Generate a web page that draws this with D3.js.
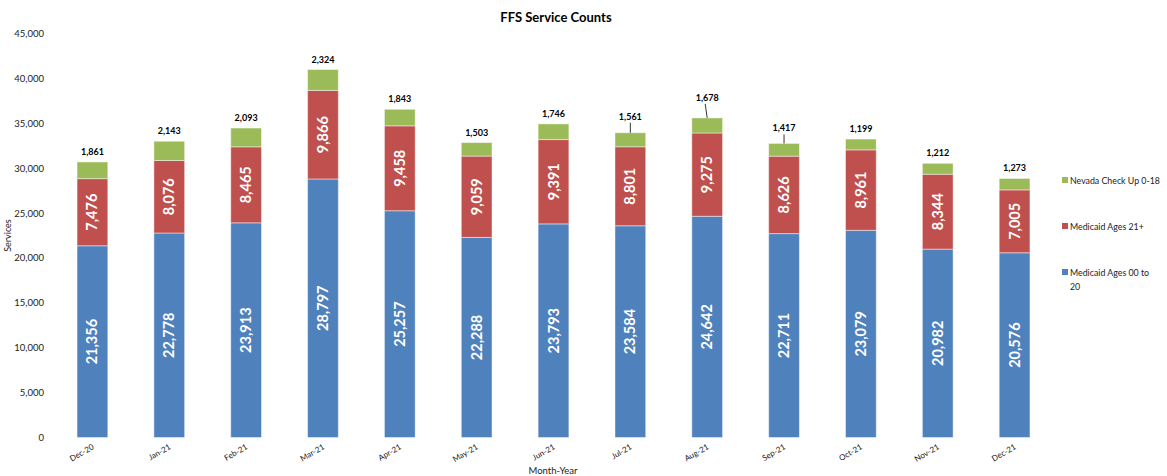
<!DOCTYPE html>
<html>
<head>
<meta charset="utf-8">
<script src="https://cdn.jsdelivr.net/npm/d3@7"></script>
<style>
  html, body { margin: 0; padding: 0; background: #fff; }
  svg { display: block; font-family: Lato, "Open Sans", "Liberation Sans", sans-serif; }
</style>
</head>
<body>
<svg id="chart" width="1167" height="476"></svg>
<script>
const months = ["Dec-20","Jan-21","Feb-21","Mar-21","Apr-21","May-21","Jun-21","Jul-21","Aug-21","Sep-21","Oct-21","Nov-21","Dec-21"];
const medicaid0020 = [21356,22778,23913,28797,25257,22288,23793,23584,24642,22711,23079,20982,20576];
const medicaid21 = [7476,8076,8465,9866,9458,9059,9391,8801,9275,8626,8961,8344,7005];
const nevadaCheckUp = [1861,2143,2093,2324,1843,1503,1746,1561,1678,1417,1199,1212,1273];
const yTicks = [0,5000,10000,15000,20000,25000,30000,35000,40000,45000];
const seriesNames = ["Medicaid Ages 00 to 20","Medicaid Ages 21+","Nevada Check Up 0-18"];
const colors = ["#4F81BD","#C0504D","#9BBB59"];
// months whose top labels sit higher with a leader line (styling only)
const leaderMonths = {"Jul-21": 6, "Aug-21": 10, "Sep-21": 5};

const svg = d3.select("#chart");
const margin = {left: 54, right: 114, top: 33.5, bottom: 38.5};
const W = 1167, H = 476;
const fmt = d3.format(",");

const x = d3.scaleBand().domain(months).range([margin.left, W - margin.right]).paddingInner(0.6).paddingOuter(0.3);
const y = d3.scaleLinear().domain([0, 45000]).range([H - margin.bottom, margin.top]);

const rows = months.map((m, i) => ({month: m, a: medicaid0020[i], b: medicaid21[i], c: nevadaCheckUp[i]}));
const stack = d3.stack().keys(["a","b","c"]);
const stacked = stack(rows);

// title
svg.append("text").attr("x", 556).attr("y", 22).attr("text-anchor", "middle")
  .attr("font-size", 13).attr("font-weight", "bold").attr("fill", "#000").text("FFS Service Counts");

// y axis
const yAxis = d3.axisLeft(y).tickValues(yTicks).tickFormat(fmt).tickSize(0).tickPadding(0);
const gy = svg.append("g").attr("transform", `translate(${margin.left - 10},0)`).call(yAxis);
gy.select(".domain").remove();
gy.selectAll("text").attr("font-size", 9.5).attr("fill", "#222").attr("font-family", "Lato, 'Open Sans', sans-serif");

// y title
svg.append("text").attr("transform", `translate(11,${(y(0)+y(45000))/2}) rotate(-90)`)
  .attr("text-anchor", "middle").attr("font-size", 9).attr("fill", "#222").text("Services");

// bars
const layers = svg.append("g").selectAll("g").data(stacked).join("g").attr("fill", (d, i) => colors[i]);
layers.selectAll("rect").data(d => d).join("rect")
  .attr("x", d => x(d.data.month))
  .attr("width", x.bandwidth())
  .attr("y", d => y(d[1]))
  .attr("height", d => y(d[0]) - y(d[1]))
  .attr("stroke", "rgba(255,255,255,0.45)").attr("stroke-width", 1);

// inside labels for first two series
[0, 1].forEach(k => {
  svg.append("g").selectAll("text").data(stacked[k]).join("text")
    .attr("transform", d => `translate(${x(d.data.month) + x.bandwidth()/2 + 5},${(y(d[0]) + y(d[1]))/2}) rotate(-90)`)
    .attr("text-anchor", "middle").attr("font-size", 14.5).attr("font-weight", "bold").attr("fill", "#fff")
    .text(d => fmt(d[1] - d[0]));
});

// top labels
const topG = svg.append("g");
stacked[2].forEach(d => {
  const cx = x(d.data.month) + x.bandwidth()/2;
  const top = y(d[1]);
  const lift = leaderMonths[d.data.month] || 0;
  const ly = top - 7 - lift;
  topG.append("text").attr("x", cx).attr("y", ly).attr("text-anchor", "middle")
    .attr("font-size", 9).attr("font-weight", "bold").attr("fill", "#000").text(fmt(d[1] - d[0]));
  if (lift) {
    topG.append("line").attr("x1", cx - (d.data.month === "Aug-21" ? 2 : 0)).attr("y1", ly + 3)
      .attr("x2", cx).attr("y2", top).attr("stroke", "#000").attr("stroke-width", 0.8);
  }
});

// x labels
const gx = svg.append("g");
months.forEach(m => {
  const cx = x(m) + x.bandwidth()/2;
  gx.append("text").attr("transform", `translate(${cx + 2},${H - margin.bottom + 11}) rotate(-30)`)
    .attr("text-anchor", "end").attr("font-size", 8).attr("fill", "#222").text(m);
});

// x title
svg.append("text").attr("x", 553).attr("y", 474).attr("text-anchor", "middle")
  .attr("font-size", 9.5).attr("fill", "#222").text("Month-Year");

// legend
const legendItems = [
  {name: seriesNames[2], color: colors[2], y: 181},
  {name: seriesNames[1], color: colors[1], y: 227},
  {name: seriesNames[0], color: colors[0], y: 273}
];
const lg = svg.append("g");
legendItems.forEach(it => {
  lg.append("rect").attr("x", 1062).attr("y", it.y - 4).attr("width", 6).attr("height", 6).attr("fill", it.color);
  const t = lg.append("text").attr("x", 1070).attr("y", it.y + 2.5).attr("font-size", 8.8).attr("fill", "#222");
  if (it.name === "Medicaid Ages 00 to 20") {
    t.append("tspan").attr("x", 1070).text("Medicaid Ages 00 to");
    t.append("tspan").attr("x", 1070).attr("dy", 14).text("20");
  } else {
    t.text(it.name);
  }
});
</script>
</body>
</html>
